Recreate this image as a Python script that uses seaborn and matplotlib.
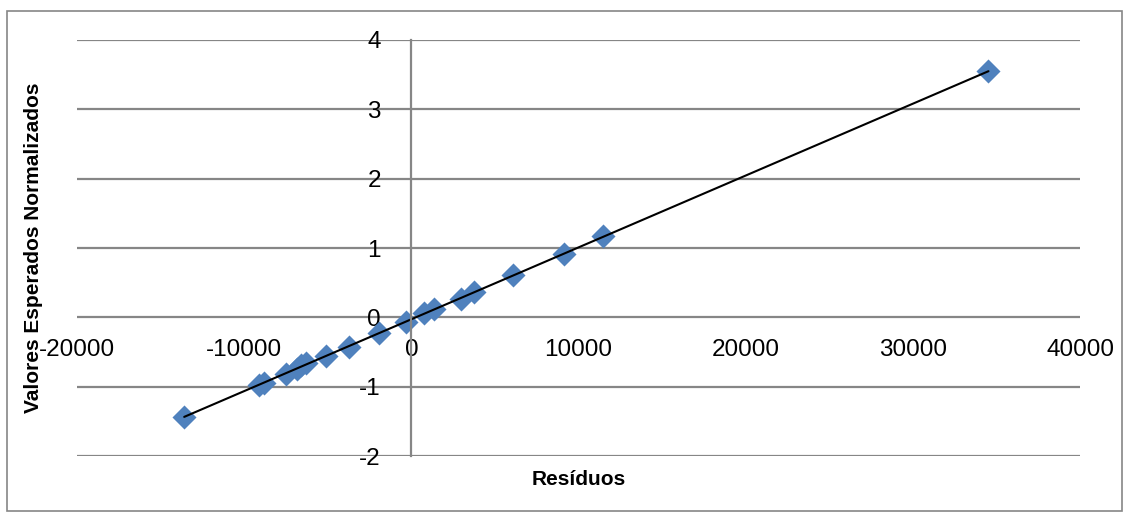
import matplotlib
matplotlib.use("Agg")
import matplotlib.pyplot as plt
import matplotlib.transforms as mtransforms
from matplotlib.patches import Rectangle
import pandas as pd
import seaborn as sns

# Residuals and their normalized expected values
residuos = [-13580, -9090, -8790, -7480, -6820, -6580, -6280, -5080, -3710,
            -1910, -300, 780, 1380, 2990, 3770, 6100, 9150, 11480, 34510]
valores = [-1.43, -0.98, -0.94, -0.81, -0.74, -0.69, -0.65, -0.55, -0.42,
           -0.23, -0.06, 0.06, 0.12, 0.27, 0.36, 0.61, 0.92, 1.17, 3.55]

x_ticks = [-20000, -10000, 0, 10000, 20000, 30000, 40000]
y_ticks = [-2, -1, 0, 1, 2, 3, 4]

df = pd.DataFrame({"Resíduos": residuos, "Valores": valores})

sns.set_theme(style="white")
plt.rcParams["font.family"] = ["Liberation Sans", "DejaVu Sans"]
plt.rcParams["text.color"] = "black"
plt.rcParams["axes.labelcolor"] = "black"

fig = plt.figure(figsize=(11.30, 5.19), dpi=100)
ax = fig.add_axes([0.068, 0.121, 0.888, 0.802])

sns.regplot(data=df, x="Resíduos", y="Valores", ax=ax, ci=None, truncate=True,
            marker="D",
            scatter_kws=dict(s=150, color="#4F81BD", linewidths=0, alpha=1),
            line_kws=dict(color="black", linewidth=1.5))

ax.set_xlim(x_ticks[0], x_ticks[-1])
ax.set_ylim(y_ticks[0], y_ticks[-1])
ax.set_xticks(x_ticks)
ax.set_yticks(y_ticks)
ax.set_xticklabels([str(v) for v in x_ticks])
ax.set_yticklabels([str(v) for v in y_ticks])

# Horizontal gridlines and the vertical axis at zero
ax.yaxis.grid(True, color="#868686", linewidth=1.6)
ax.xaxis.grid(False)
ax.set_axisbelow(True)
for side in ["top", "right", "bottom"]:
    ax.spines[side].set_visible(False)
ax.spines["left"].set_position(("data", 0))
ax.spines["left"].set_color("#868686")
ax.spines["left"].set_linewidth(1.6)

ax.tick_params(axis="both", length=0, labelsize=17.5, colors="black")
ax.tick_params(axis="y", pad=22)

# x tick labels sit just below the zero gridline
trans = mtransforms.blended_transform_factory(ax.transData, ax.transData)
for lbl in ax.get_xticklabels():
    lbl.set_transform(trans + mtransforms.ScaledTranslation(0, -0.22, fig.dpi_scale_trans))
    lbl.set_y(0)

ax.set_xlabel("Resíduos", fontsize=15, fontweight="bold", labelpad=10)
ax.set_ylabel("Valores Esperados Normalizados", fontsize=15, fontweight="bold")
ax.yaxis.set_label_coords(-0.034, 0.5)

# Chart frame
fig.patches.append(Rectangle((7 / 1130, 1 - 511 / 519), 1115 / 1130, 500 / 519,
                             transform=fig.transFigure, fill=False,
                             edgecolor="#868686", linewidth=1.2))

fig.savefig("out.png", dpi=100)
